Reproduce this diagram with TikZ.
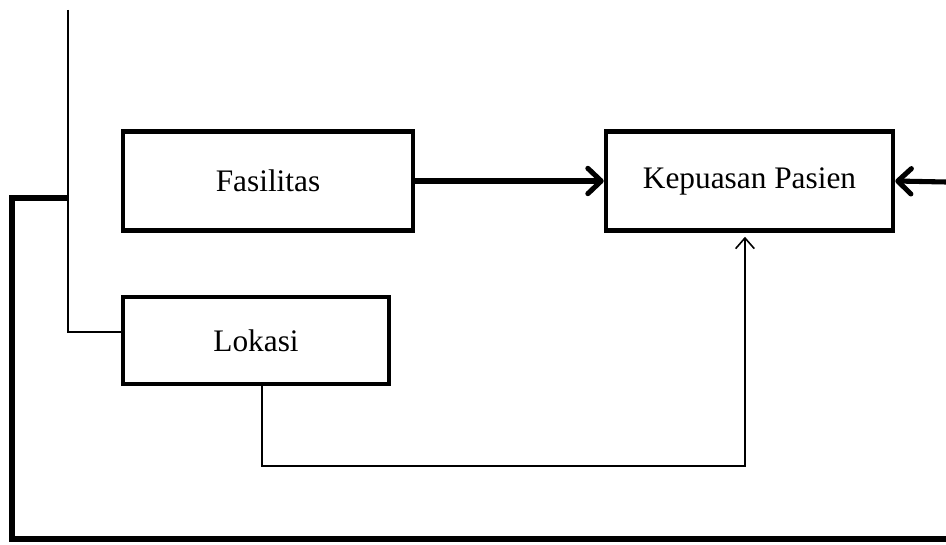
\documentclass[tikz,border=0pt]{standalone}
\usepackage{fontspec}
\setmainfont{Liberation Serif}
\usetikzlibrary{arrows.meta}

\begin{document}
\begin{tikzpicture}[x=0.75pt,y=-0.75pt,
    box/.style={draw,line width=3.4pt,inner sep=0pt,
      font=\fontsize{23.5}{28}\selectfont},
    thickarr/.style={line width=3.8pt,-{Straight Barb[length=10pt,width=19pt,round]}},
    thinarr/.style={line width=1.2pt,-{Straight Barb[length=8pt,width=14pt]}},
    thinline/.style={line width=1.2pt},
    fback/.style={line width=4.8pt}]
  \useasboundingbox (0,0) rectangle (946,545);

  % kotak variabel
  \node[box,minimum width=217.5pt,minimum height=74.25pt] (fas) at (268,181) {Fasilitas};
  \node[box,minimum width=215.25pt,minimum height=74.25pt] (kep) at (749.5,181) {Kepuasan Pasien};
  \node[box,minimum width=199.5pt,minimum height=65.25pt] (lok) at (256,340.5) {Lokasi};

  \coordinate (top) at (68,10);
  \coordinate (junc) at (68,198);
  \coordinate (bl) at (12,198);
  \coordinate (br) at (946,539);
  \coordinate (re) at (946,182);

  % garis tipis
  \draw[thinline] (top) |- ([yshift=6.4pt]lok.west);
  \draw[thinarr] ([xshift=4.5pt]lok.south) -- ++(0,80) -| ([xshift=-3.4pt,yshift=-3pt]kep.south);

  % garis tebal
  \draw[thickarr] (fas.east) -- (kep.west);
  \draw[fback,line join=miter] (junc) -- (bl) |- (br);
  \draw[thickarr] (re) -- (kep.east);
\end{tikzpicture}
\end{document}
